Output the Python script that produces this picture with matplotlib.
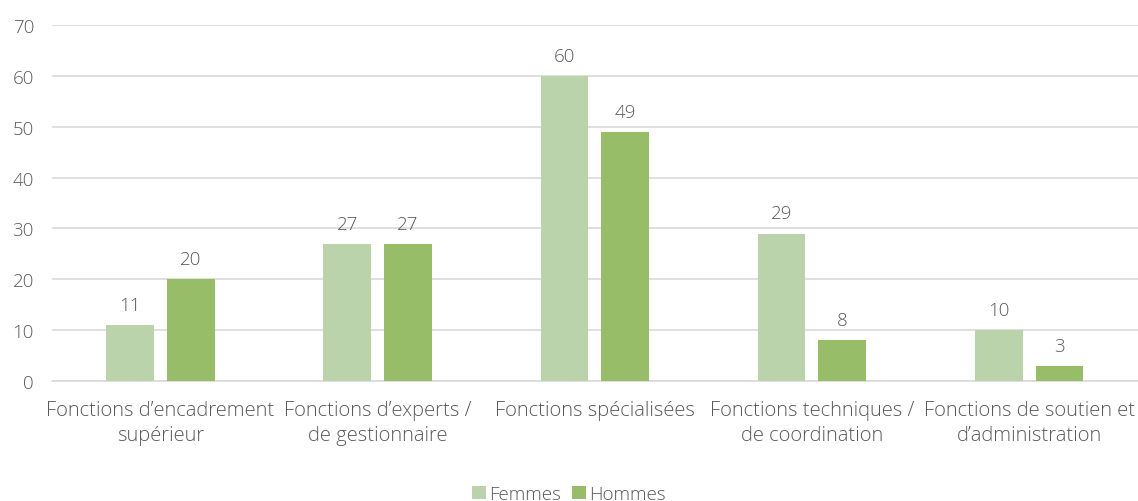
import matplotlib
matplotlib.use("Agg")
import matplotlib.pyplot as plt
import numpy as np

categories = ["Fonctions d\u2019encadrement\nsupérieur", "Fonctions d\u2019experts /\nde gestionnaire",
              "Fonctions spécialisées", "Fonctions techniques /\nde coordination",
              "Fonctions de soutien et\nd\u2019administration"]
femmes = [11, 27, 60, 29, 10]
hommes = [20, 27, 49, 8, 3]
series_names = ["Femmes", "Hommes"]
yticks = [0, 10, 20, 30, 40, 50, 60, 70]

plt.rcParams['font.family'] = ['Open Sans', 'DejaVu Sans']
txt = '#595959'
c_f = '#BBD3AA'
c_h = '#97BD68'
fs = 13.5

fig = plt.figure(figsize=(11.38, 5.02), dpi=100)
ax = fig.add_axes([0.0457, 0.239, 0.954, 0.709])
x = np.arange(len(categories))
w = 0.22
off = 0.14
b1 = ax.bar(x - off, femmes, w, color=c_f, label=series_names[0], zorder=3)
b2 = ax.bar(x + off, hommes, w, color=c_h, label=series_names[1], zorder=3)
for bars, vals in ((b1, femmes), (b2, hommes)):
    for r, v in zip(bars, vals):
        ax.text(r.get_x() + r.get_width() / 2, v + 2.2, str(v), ha='center', va='bottom',
                fontsize=fs, color=txt, fontweight='light')

ax.set_xlim(-0.5, len(categories) - 0.5)
ax.set_ylim(0, 70)
ax.set_yticks(yticks)
ax.yaxis.grid(True, color='#D9D9D9', linewidth=1.2, zorder=0)
ax.set_axisbelow(True)
for s in ['top', 'right', 'left']:
    ax.spines[s].set_visible(False)
ax.spines['bottom'].set_color('#D9D9D9')
ax.spines['bottom'].set_linewidth(1.2)
ax.tick_params(axis='both', length=0, labelsize=fs, colors=txt)
ax.tick_params(axis='y', pad=13)
ax.tick_params(axis='x', pad=14, labelsize=14.5)
ax.set_xticks(x)
ax.set_xticklabels(categories, linespacing=1.3)
for lab in ax.get_xticklabels() + ax.get_yticklabels():
    lab.set_fontweight('light')

leg = fig.legend(handles=[b1, b2], labels=series_names, loc='center', bbox_to_anchor=(0.5, 0.014),
                 ncol=2, frameon=False, fontsize=fs, labelcolor=txt, handlelength=0.75, handleheight=0.75,
                 handletextpad=0.15, columnspacing=0.6)
for t in leg.get_texts():
    t.set_fontweight('light')
fig.savefig('out.png', dpi=100)
